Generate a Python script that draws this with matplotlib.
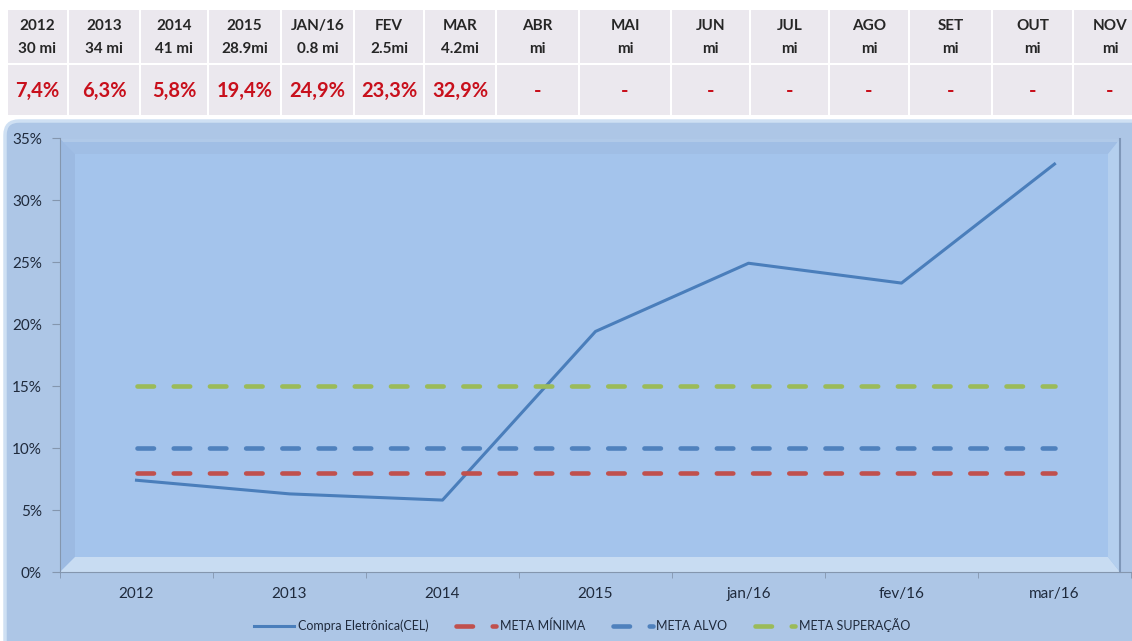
import numpy as np
import matplotlib
matplotlib.use('agg')
from matplotlib import pyplot as plt
from matplotlib.patches import Rectangle, FancyBboxPatch, Polygon
from matplotlib.transforms import Affine2D
from matplotlib.ticker import FixedLocator, PercentFormatter

plt.rcParams['font.family'] = ['Lato', 'DejaVu Sans']

# chart data
categories = ['2012', '2013', '2014', '2015', 'jan/16', 'fev/16', 'mar/16']
cel = [7.4, 6.3, 5.8, 19.4, 24.9, 23.3, 32.9]
meta_minima = [8, 8, 8, 8, 8, 8, 8]
meta_alvo = [10, 10, 10, 10, 10, 10, 10]
meta_superacao = [15, 15, 15, 15, 15, 15, 15]

# table above the chart
table_periods = ['2012', '2013', '2014', '2015', 'JAN/16', 'FEV', 'MAR', 'ABR',
                 'MAI', 'JUN', 'JUL', 'AGO', 'SET', 'OUT', 'NOV']
table_volumes = ['30 mi', '34 mi', '41 mi', '28.9mi', '0.8 mi', '2.5mi', '4.2mi', 'mi',
                 'mi', 'mi', 'mi', 'mi', 'mi', 'mi', 'mi']
table_values = ['7,4%', '6,3%', '5,8%', '19,4%', '24,9%', '23,3%', '32,9%', '-',
                '-', '-', '-', '-', '-', '-', '-']

W, H = 1132, 641
fig = plt.figure(figsize=(W / 100, H / 100), dpi=100)
fig.patch.set_facecolor('white')
# pixel coordinates (origin top left)
T = Affine2D().scale(1.0 / W, -1.0 / H).translate(0, 1) + fig.transFigure

# table
col_edges = [7, 68, 140, 208, 281, 354, 424, 496, 579, 671, 750, 829, 909, 992, 1073, 1150]
for i in range(len(table_periods)):
    x0, x1 = col_edges[i] + 1, col_edges[i + 1] - 1
    xc = (col_edges[i] + col_edges[i + 1]) / 2
    if i == len(table_periods) - 1:
        xc = 1110
    for (y0, y1) in [(10, 63), (65, 115)]:
        fig.patches.append(Rectangle((x0, y0), x1 - x0, y1 - y0, transform=T,
                                     facecolor='#ebe8ee', edgecolor='none', zorder=-2))
    fig.text(xc / W, 1 - 26 / H, table_periods[i], ha='center', va='center',
             fontsize=11, fontweight='bold', color='#262626')
    fig.text(xc / W, 1 - 49 / H, table_volumes[i], ha='center', va='center',
             fontsize=11, fontweight='bold', color='#262626')
    fig.text(xc / W, 1 - 91 / H, table_values[i], ha='center', va='center',
             fontsize=14.5, fontweight='bold', color='#c8101c')

# chart area
fig.patches.append(FancyBboxPatch((5, 121), 1160, 560, boxstyle='round,pad=0,rounding_size=14',
                                  transform=T, facecolor='#adc6e6', edgecolor='#cfe0f3',
                                  linewidth=2.5, zorder=-1))

ax = fig.add_axes([60 / W, 1 - 572 / H, (1131 - 60) / W, (572 - 138) / H])
ax.set_facecolor('none')

# 3d wall look
walls = [
    ([(60, 139), (1120, 139), (1120, 572), (60, 572)], '#a4c4ec'),
    ([(60, 139), (1120, 139), (1108, 154), (75, 154)], '#a0bee5'),
    ([(60, 139), (1120, 139), (1118, 142), (63, 142)], '#b0c9e8'),
    ([(60, 139), (75, 154), (75, 557), (60, 572)], '#9cbae2'),
    ([(60, 572), (75, 557), (1108, 557), (1120, 572)], '#c8dcf2'),
    ([(1108, 154), (1120, 139), (1120, 572), (1108, 557)], '#b4cfee'),
    ([(1120, 139), (1140, 139), (1140, 572), (1120, 572)], '#adc6e6'),
]
for pts, c in walls:
    ax.add_patch(Polygon(pts, closed=True, transform=T, facecolor=c, edgecolor='none',
                         zorder=0.2, clip_on=False))
ax.plot([1120, 1120], [139, 572], transform=T, color='#7f97b8', lw=1.5, zorder=0.3, clip_on=False)

x = np.arange(len(categories))
ax.plot(x, cel, color='#4a7ebb', lw=2.2, label='Compra Eletrônica(CEL)', zorder=3)
ax.plot(x, meta_minima, color='#c0504d', lw=3.3, dashes=(3.6, 4.3), dash_capstyle='round',
        label='META MÍNIMA', zorder=3)
ax.plot(x, meta_alvo, color='#4f81bd', lw=3.3, dashes=(3.6, 4.3), dash_capstyle='round',
        label='META ALVO', zorder=3)
ax.plot(x, meta_superacao, color='#9bbb59', lw=3.3, dashes=(3.6, 4.3), dash_capstyle='round',
        label='META SUPERAÇÃO', zorder=3)

ax.set_xlim(-0.5, 6.5)
ax.set_ylim(0, 35)
ax.set_yticks(np.arange(0, 36, 5))
ax.yaxis.set_major_formatter(PercentFormatter(decimals=0))
ax.set_xticks(x)
ax.set_xticklabels(categories)
ax.xaxis.set_minor_locator(FixedLocator(np.arange(-0.5, 7, 1)))
ax.tick_params(axis='x', which='major', length=0, pad=11, labelsize=11, labelcolor='#1f2a3c')
ax.tick_params(axis='x', which='minor', length=4, color='#8496ae')
ax.tick_params(axis='y', length=6, pad=7, labelsize=11, labelcolor='#1f2a3c', color='#8496ae')
for s in ['top', 'right']:
    ax.spines[s].set_visible(False)
for s in ['left', 'bottom']:
    ax.spines[s].set_color('#8496ae')
    ax.spines[s].set_zorder(4)

ax.legend(loc='center', bbox_to_anchor=(582 / W, 1 - 625 / H), bbox_transform=fig.transFigure,
          ncol=4, frameon=False, fontsize=9, handlelength=3.2, columnspacing=2.2,
          handletextpad=0.3, labelcolor='#1f2a3c')

fig.savefig('out.png', dpi=100)
